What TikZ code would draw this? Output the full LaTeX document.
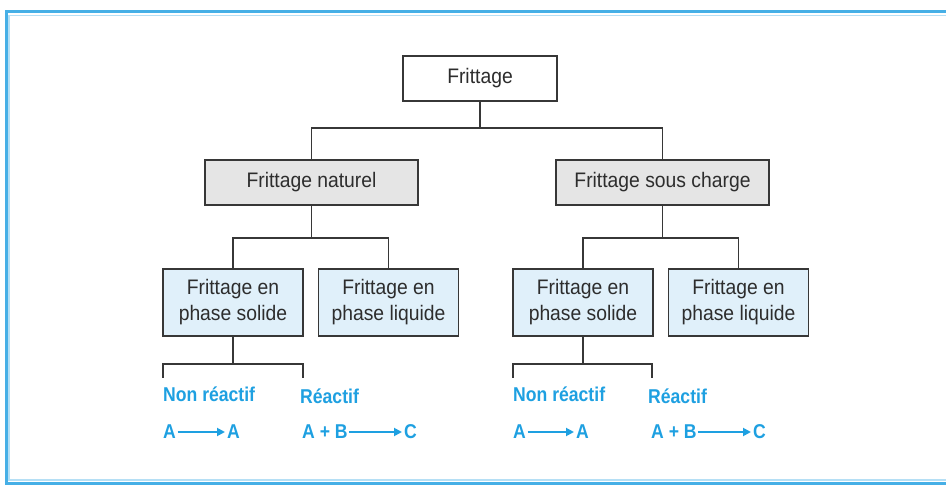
\documentclass[tikz,border=0pt]{standalone}
\usepackage{fontspec}
\setmainfont{Liberation Sans}
\newfontfamily\narrowfont[FakeStretch=0.92]{Liberation Sans}
\newfontfamily\narrowbold[FakeStretch=0.88]{Liberation Sans Bold}
\usetikzlibrary{arrows.meta}
\definecolor{framebl}{RGB}{70,175,230}
\definecolor{txtbl}{RGB}{30,160,225}
\definecolor{boxgray}{RGB}{229,229,229}
\definecolor{boxblue}{RGB}{224,240,250}
\definecolor{linegr}{RGB}{55,55,55}
\definecolor{txtgr}{RGB}{45,45,45}
\begin{document}
\begin{tikzpicture}[x=1pt,y=-1pt,
  box/.style={draw=linegr,line width=1.9pt,inner sep=0pt,text=txtgr,align=center,
    font=\narrowfont\fontsize{21}{26}\selectfont},
  topbox/.style={box,fill=white,minimum width=154pt,minimum height=45pt},
  midbox/.style={box,fill=boxgray,minimum width=213pt,minimum height=45pt},
  leafbox/.style={box,fill=boxblue,minimum width=140pt,minimum height=67pt},
  conn/.style={draw=linegr,line width=1.9pt},
  bluetxt/.style={text=txtbl,inner sep=0pt,anchor=west,font=\narrowbold\fontsize{20}{22}\selectfont},
  arr/.style={draw=txtbl,line width=1.8pt,-{Triangle[length=8pt,width=8pt]}}]
\useasboundingbox (0,0) rectangle (946,486);
\fill[white] (0,0) rectangle (946,486);
% frame
\draw[framebl,line width=3pt] (960,12) -- (6,12) -- (6,483) -- (960,483);
\draw[framebl!40,line width=1.2pt] (960,15.5) -- (9,15.5) -- (9,480) -- (960,480);
% boxes
\node[topbox] (root) at (480,78.5) {Frittage};
\node[midbox] (nat) at (311.5,182.5) {Frittage naturel};
\node[midbox] (sc) at (662.5,182.5) {Frittage sous charge};
\node[leafbox] (sol1) at (233,302.5) {Frittage en\\phase solide};
\node[leafbox] (liq1) at (388.5,302.5) {Frittage en\\phase liquide};
\node[leafbox] (sol2) at (583,302.5) {Frittage en\\phase solide};
\node[leafbox] (liq2) at (738.5,302.5) {Frittage en\\phase liquide};
% connectors
\coordinate (bar0) at (480,129);
\coordinate (bar1) at (311.5,239);
\coordinate (bar2) at (662.5,239);
\draw[conn] (root.south) -- (bar0);
\draw[conn] (nat.north) -- ++(0,-31) -| (sc.north);
\draw[conn] (nat.south) -- (bar1);
\draw[conn] (sol1.north) -- ++(0,-30) -| (liq1.north);
\draw[conn] (sc.south) -- (bar2);
\draw[conn] (sol2.north) -- ++(0,-30) -| (liq2.north);
% lower branches
\coordinate (nl1) at (163,378);
\coordinate (rl1) at (303,378);
\coordinate (nl2) at (513,378);
\coordinate (rl2) at (652,378);
\draw[conn] (sol1.south) -- ++(0,28);
\draw[conn] (nl1) -- ++(0,-14) -| (rl1);
\draw[conn] (sol2.south) -- ++(0,28);
\draw[conn] (nl2) -- ++(0,-14) -| (rl2);
% blue labels left
\node[bluetxt] (nr1) at (163,394) {Non réactif};
\node[bluetxt] (r1) at (300,396) {Réactif};
\node[bluetxt] (a1) at (163,432) {A};
\node[bluetxt] (a2) at (227,432) {A};
\node[bluetxt] (ab1) at (302,432) {A + B};
\node[bluetxt] (c1) at (404,432) {C};
\draw[arr] ([xshift=1.5pt]a1.east) -- ([xshift=-2pt]a2.west);
\draw[arr] ([xshift=1pt]ab1.east) -- ([xshift=-2pt]c1.west);
% blue labels right
\node[bluetxt] (nr2) at (513,394) {Non réactif};
\node[bluetxt] (r2) at (648,396) {Réactif};
\node[bluetxt] (a3) at (513,432) {A};
\node[bluetxt] (a4) at (576,432) {A};
\node[bluetxt] (ab2) at (651,432) {A + B};
\node[bluetxt] (c2) at (753,432) {C};
\draw[arr] ([xshift=1.5pt]a3.east) -- ([xshift=-2pt]a4.west);
\draw[arr] ([xshift=1pt]ab2.east) -- ([xshift=-2pt]c2.west);
\end{tikzpicture}
\end{document}
